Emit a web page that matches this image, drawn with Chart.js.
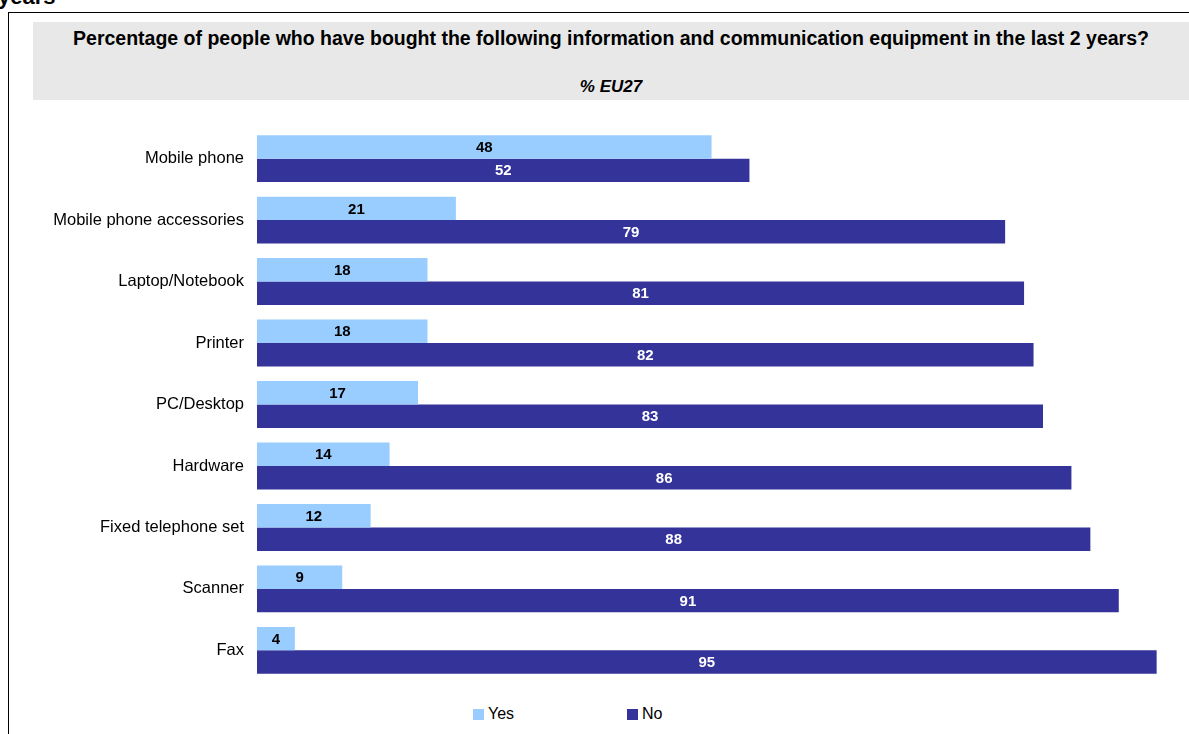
<!DOCTYPE html>
<html>
<head>
<meta charset="utf-8">
<title>ICT equipment bought in the last 2 years</title>
<script src="https://cdn.jsdelivr.net/npm/chart.js@4.4.1/dist/chart.umd.min.js"></script>
<style>
  body {
    margin: 0;
    width: 1189px;
    height: 734px;
    overflow: hidden;
    position: relative;
    background: #fff;
    font-family: "Liberation Sans", Arial, sans-serif;
  }
  #heading {
    position: absolute;
    left: -2px;
    top: -14px;
    font-size: 22px;
    line-height: 22px;
    font-weight: bold;
  }
  #frame {
    position: absolute;
    left: 8px;
    top: 12px;
    width: 1300px;
    height: 800px;
    border-left: 1.5px solid #000;
    border-top: 1.5px solid #000;
  }
  #band {
    position: absolute;
    left: 33px;
    top: 22px;
    width: 1156px;
    height: 78px;
    background: #e8e8e8;
    text-align: center;
    white-space: nowrap;
  }
  #band .title {
    position: absolute;
    left: 0;
    right: 0;
    top: 6px;
    font-size: 19.5px;
    line-height: 20px;
    font-weight: bold;
  }
  #band .sub {
    position: absolute;
    left: 0;
    right: 0;
    top: 56px;
    font-size: 17px;
    line-height: 17px;
    font-weight: bold;
    font-style: italic;
  }
  #chartBox {
    position: absolute;
    left: 9px;
    top: 105px;
    width: 1203px;
    height: 599px;
  }
  #legend {
    position: absolute;
    top: 705px;
    left: 473px;
    font-size: 16px;
    display: flex;
  }
  #legend .item {
    display: flex;
    align-items: center;
    width: 154px;
  }
  #legend .swatch {
    width: 11px;
    height: 11px;
    margin-right: 4px;
  }
</style>
</head>
<body>
<div id="heading">years</div>
<div id="frame"></div>
<div id="band">
  <div class="title">Percentage of people who have bought the following information and communication equipment in the last 2 years?</div>
  <div class="sub">% EU27</div>
</div>
<div id="chartBox"><canvas id="myChart"></canvas></div>
<div id="legend"></div>

<script>
const categories = [
  "Mobile phone",
  "Mobile phone accessories",
  "Laptop/Notebook",
  "Printer",
  "PC/Desktop",
  "Hardware",
  "Fixed telephone set",
  "Scanner",
  "Fax",
];
const yesValues = [48, 21, 18, 18, 17, 14, 12, 9, 4];
const noValues = [52, 79, 81, 82, 83, 86, 88, 91, 95];

const FONT = "'Liberation Sans', Arial, sans-serif";

// writes the value in the middle of each bar
const barValueLabels = {
  id: "barValueLabels",
  afterDatasetsDraw(chart) {
    const ctx = chart.ctx;
    ctx.save();
    ctx.font = "bold 15px " + FONT;
    ctx.textAlign = "center";
    ctx.textBaseline = "middle";
    chart.data.datasets.forEach((ds, i) => {
      ctx.fillStyle = ds.labelColor;
      chart.getDatasetMeta(i).data.forEach((bar, j) => {
        ctx.fillText(ds.data[j], (bar.x + bar.base) / 2, bar.y + 1);
      });
    });
    ctx.restore();
  },
};

const ctx = document.getElementById("myChart");

const chart = new Chart(ctx, {
  type: "bar",
  data: {
    labels: categories,
    datasets: [
      {
        label: "Yes",
        data: yesValues,
        backgroundColor: "#99ccff",
        labelColor: "#000000",
      },
      {
        label: "No",
        data: noValues,
        backgroundColor: "#333399",
        labelColor: "#ffffff",
      },
    ],
  },
  options: {
    indexAxis: "y",
    responsive: true,
    maintainAspectRatio: false,
    animation: false,
    datasets: {
      bar: {
        categoryPercentage: 0.763,
        barPercentage: 1,
      },
    },
    layout: {
      padding: { top: 14, bottom: 8, right: 8, left: 0 },
    },
    plugins: {
      legend: { display: false },
      tooltip: { enabled: false },
    },
    scales: {
      x: {
        display: false,
        min: 0,
        max: 100,
      },
      y: {
        grid: { display: false, drawTicks: false },
        border: { display: false },
        ticks: {
          padding: 13,
          color: "#000",
          font: { family: FONT, size: 16.5 },
        },
        afterFit: function (scale) {
          scale.width = 248;
        },
      },
    },
  },
  plugins: [barValueLabels],
});

// legend under the chart
const legend = document.getElementById("legend");
chart.data.datasets.forEach((ds) => {
  const item = document.createElement("div");
  item.className = "item";
  const sw = document.createElement("span");
  sw.className = "swatch";
  sw.style.background = ds.backgroundColor;
  item.appendChild(sw);
  item.appendChild(document.createTextNode(ds.label));
  legend.appendChild(item);
});
</script>
</body>
</html>
